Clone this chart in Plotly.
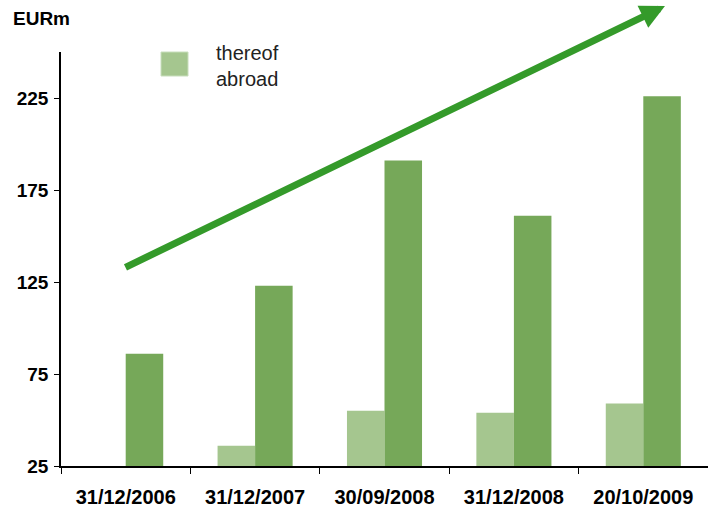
import plotly.graph_objects as go

# Data (EURm)
dates = ['31/12/2006', '31/12/2007', '30/09/2008', '31/12/2008', '20/10/2009']
total = [86, 123, 191, 161, 226]
abroad = [None, 36, 55, 54, 59]
y_ticks = [25, 75, 125, 175, 225]

dark_green = 'rgb(118,168,89)'
light_green = 'rgb(165,198,143)'
arrow_green = 'rgb(52,154,42)'
font_family = 'Liberation Sans, Arial, Helvetica, sans-serif'

fig = go.Figure()
fig.add_trace(go.Bar(x=dates, y=abroad, name='thereof abroad',
	marker=dict(color=light_green, line=dict(width=0)), showlegend=False))
fig.add_trace(go.Bar(x=dates, y=total, name='total',
	marker=dict(color=dark_green, line=dict(width=0)), showlegend=False))

fig.update_layout(
	width=708, height=509,
	margin=dict(l=61, r=0, t=52, b=43),
	paper_bgcolor='white', plot_bgcolor='white',
	barmode='group', bargap=0.42, bargroupgap=0,
	font=dict(family=font_family, color='black'),
	showlegend=False,
)

fig.update_xaxes(showline=True, linecolor='black', linewidth=1.5,
	ticks='outside', tickson='boundaries', ticklen=6, tickcolor='black',
	tickfont=dict(size=20, family=font_family, weight='bold'),
	showgrid=False, zeroline=False, ticklabelstandoff=12)
fig.update_yaxes(range=[25, 250], tickvals=y_ticks, showline=True,
	linecolor='black', linewidth=1.5, ticks='outside', ticklen=5,
	tickcolor='black', tickfont=dict(size=19, family=font_family, weight='bold'),
	showgrid=False, zeroline=False, ticklabelstandoff=2)

# Unit label
fig.add_annotation(text='<b>EURm</b>', xref='paper', yref='paper',
	x=-0.077, y=1.08, xanchor='left', yanchor='middle', showarrow=False,
	font=dict(size=19, family=font_family, color='black'))

# Legend (drawn by hand to get the large swatch)
fig.add_shape(type='rect', xref='paper', yref='paper',
	x0=0.1546, x1=0.1963, y0=0.942, y1=1.0,
	fillcolor=light_green, line=dict(color='rgb(200,222,188)', width=1))
fig.add_annotation(text='thereof<br>abroad', xref='paper', yref='paper',
	x=0.237, y=1.028, xanchor='left', yanchor='top', align='left',
	showarrow=False, font=dict(size=20, family=font_family, color='#222'))

# Growth arrow
fig.add_annotation(xref='paper', yref='paper', x=0.9335, y=1.111,
	ax=-541, ay=262, text='', showarrow=True, arrowhead=2, arrowsize=0.7,
	arrowwidth=7, arrowcolor=arrow_green, standoff=0, startstandoff=0)

# page body has a default 8px margin; drop it so the figure sits at 0,0
fig.write_html('out.html', config={'displayModeBar': False},
	post_script="document.body.style.margin='0';")
